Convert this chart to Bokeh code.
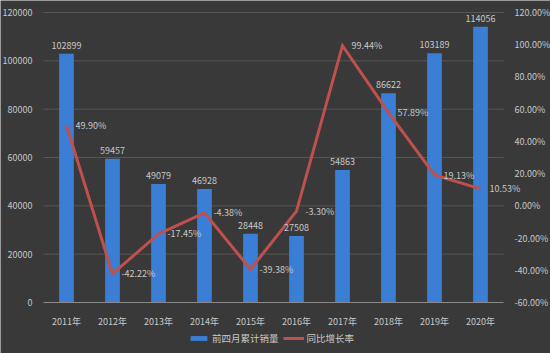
from bokeh.plotting import figure
from bokeh.models import (Range1d, LinearAxis, FixedTicker, PrintfTickFormatter,
                          Legend, LegendItem, ColumnDataSource)
from bokeh.embed import file_html
from bokeh.resources import INLINE
from bokeh.core.properties import value

years = ["2011年", "2012年", "2013年", "2014年", "2015年", "2016年", "2017年", "2018年", "2019年", "2020年"]
sales = [102899, 59457, 49079, 46928, 28448, 27508, 54863, 86622, 103189, 114056]
growth = [49.90, -42.22, -17.45, -4.38, -39.38, -3.30, 99.44, 57.89, 19.13, 10.53]
left_ticks = [0, 20000, 40000, 60000, 80000, 100000, 120000]
right_ticks = [-60, -40, -20, 0, 20, 40, 60, 80, 100, 120]

FONT = "Noto Sans CJK SC"
BG = "#393939"
TXT = "#c8c8c8"

xs = list(range(len(years)))
x_lo, x_hi = -0.5, len(years) - 0.5

src = ColumnDataSource(dict(
    x=xs, sales=sales, growth=growth,
    sales_lbl=[str(v) for v in sales],
    growth_lbl=["%.2f%%" % v for v in growth],
))

# frame fills the canvas; ranges extended so the plotting area sits like the original
p = figure(width=550, height=353,
           x_range=Range1d(x_lo - 43 / 46.0, x_hi + 47 / 46.0),
           y_range=Range1d(-51 * 120000 / 290.0, 120000 + 12 * 120000 / 290.0),
           output_backend="svg", toolbar_location=None,
           min_border_left=0, min_border_right=0, min_border_top=0, min_border_bottom=0)
p.background_fill_color = BG
p.border_fill_color = BG
p.outline_line_color = None
p.extra_y_ranges = {"pct": Range1d(-60 - 51 * 180 / 290.0, 120 + 12 * 180 / 290.0)}
p.grid.visible = False

# horizontal gridlines limited to the plotting area
grid_src = ColumnDataSource(dict(
    x0=[x_lo] * (len(left_ticks) - 1), x1=[x_hi] * (len(left_ticks) - 1),
    y=left_ticks[1:]))
p.segment(x0="x0", x1="x1", y0="y", y1="y", source=grid_src, line_color="#565656", line_width=1)

bars = p.vbar(x="x", top="sales", width=0.32, source=src, fill_color="#3b7ed6", line_color=None)
line = p.line(x="x", y="growth", source=src, y_range_name="pct", line_color="#c0504d",
              line_width=3, line_join="miter")

p.text(x="x", y="sales", text="sales_lbl", source=src, text_align="center",
       text_baseline="bottom", y_offset=-5, text_font=value(FONT), text_font_size="9px",
       text_color=TXT)
p.text(x="x", y="growth", text="growth_lbl", source=src, y_range_name="pct", text_align="left",
       text_baseline="middle", x_offset=9, text_font=value(FONT), text_font_size="9px",
       text_color=TXT)

# left axis
ya = p.yaxis[0]
ya.fixed_location = x_lo
ya.ticker = FixedTicker(ticks=left_ticks)
ya.formatter = PrintfTickFormatter(format="%d")
ya.axis_line_color = None
ya.major_tick_line_color = None
ya.minor_tick_line_color = None
ya.major_label_text_font = FONT
ya.major_label_text_font_size = "9px"
ya.major_label_text_color = TXT
ya.major_label_standoff = 5

# right axis
ra = LinearAxis(y_range_name="pct", ticker=FixedTicker(ticks=right_ticks),
                formatter=PrintfTickFormatter(format="%.2f%%"), fixed_location=x_hi)
ra.axis_line_color = None
ra.major_tick_line_color = None
ra.minor_tick_line_color = None
ra.major_label_text_font = FONT
ra.major_label_text_font_size = "9px"
ra.major_label_text_color = TXT
ra.major_label_standoff = 5
p.add_layout(ra, "right")

# x axis
xa = p.xaxis[0]
xa.fixed_location = 0
xa.bounds = (x_lo, x_hi)
xa.ticker = FixedTicker(ticks=xs)
xa.major_label_overrides = {i: y for i, y in zip(xs, years)}
xa.axis_line_color = "#8a8a8a"
xa.axis_line_width = 1
xa.major_tick_line_color = None
xa.minor_tick_line_color = None
xa.major_label_text_font = FONT
xa.major_label_text_font_size = "9px"
xa.major_label_text_color = TXT
xa.major_label_standoff = 6

legend = Legend(items=[LegendItem(label="前四月累计销量", renderers=[bars]),
                       LegendItem(label="同比增长率", renderers=[line])],
                orientation="horizontal", location=(188, 8),
                background_fill_alpha=0, border_line_color=None,
                label_text_font=FONT, label_text_font_size="9.5px", label_text_color=TXT,
                glyph_width=21, glyph_height=6, label_standoff=3, spacing=4,
                padding=2, margin=0)
p.add_layout(legend, "center")

open("out.html", "w").write(file_html(p, INLINE))
